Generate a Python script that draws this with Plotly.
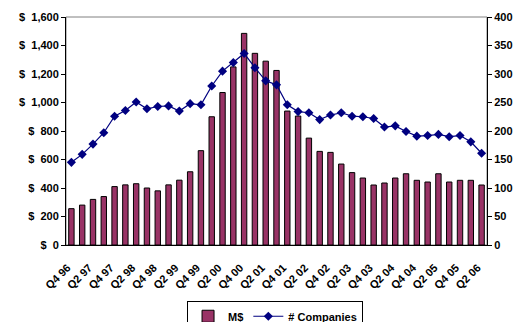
import plotly.graph_objects as go

# Quarterly funding (M$) and number of companies funded
quarters = [
    "Q4 96", "Q1 97", "Q2 97", "Q3 97", "Q4 97", "Q1 98", "Q2 98", "Q3 98",
    "Q4 98", "Q1 99", "Q2 99", "Q3 99", "Q4 99", "Q1 00", "Q2 00", "Q3 00",
    "Q4 00", "Q1 01", "Q2 01", "Q3 01", "Q4 01", "Q1 02", "Q2 02", "Q3 02",
    "Q4 02", "Q1 03", "Q2 03", "Q3 03", "Q4 03", "Q1 04", "Q2 04", "Q3 04",
    "Q4 04", "Q1 05", "Q2 05", "Q3 05", "Q4 05", "Q1 06", "Q2 06",
]
funding_musd = [
    255, 280, 320, 340, 410, 422, 430, 400, 380, 422, 455, 514, 662,
    900, 1070, 1250, 1485, 1345, 1290, 1225, 940, 905, 750, 657, 650,
    568, 508, 470, 421, 435, 470, 500, 454, 442, 500, 442, 454, 454, 421,
]
companies = [
    145, 159, 177, 197, 226, 236, 251, 239, 243, 244, 235, 248, 246,
    279, 305, 320, 336, 311, 288, 281, 246, 234, 232, 220, 228, 232,
    226, 225, 222, 207, 209, 199, 191, 192, 194, 190, 192, 181, 161,
]

x_tick_labels = quarters[::2]
left_tick_vals = [0, 200, 400, 600, 800, 1000, 1200, 1400, 1600]
left_tick_text = ["$\u00a0\u00a00", "$\u00a0\u00a0200", "$\u00a0\u00a0400",
                  "$\u00a0\u00a0600", "$\u00a0\u00a0800", "$\u00a0\u00a01,000",
                  "$\u00a0\u00a01,200", "$\u00a0\u00a01,400", "$\u00a0\u00a01,600"]
right_tick_vals = [0, 50, 100, 150, 200, 250, 300, 350, 400]

FONT = "Liberation Sans, Arial, sans-serif"
BAR_COLOR = "#993366"
LINE_COLOR = "#000080"
n = len(quarters)

fig = go.Figure()
fig.add_trace(go.Bar(
    x=quarters, y=funding_musd, name="M$",
    marker=dict(color=BAR_COLOR, line=dict(color="black", width=1)),
    xaxis="x", yaxis="y",
))
fig.add_trace(go.Scatter(
    x=quarters, y=companies, name="# Companies", mode="lines+markers",
    line=dict(color=LINE_COLOR, width=1.2),
    marker=dict(symbol="diamond", size=7, color=LINE_COLOR),
    xaxis="x", yaxis="y2",
))

tick_font = dict(family=FONT, size=11, color="black", weight="bold")

fig.update_layout(
    width=517, height=322,
    margin=dict(l=66, r=30, t=17, b=77, autoexpand=False),
    paper_bgcolor="white", plot_bgcolor="white",
    bargap=0.5,
    showlegend=True,
    font=dict(family=FONT, color="black"),
    xaxis=dict(
        type="category", range=[-0.5, n - 0.5],
        tickvals=x_tick_labels, ticktext=x_tick_labels,
        tickangle=-45, ticks="", ticklabelstandoff=11, ticklabelshift=-4,
        tickfont=dict(family=FONT, size=11, color="black", weight="bold"),
        showline=True, linecolor="black", linewidth=1,
        showgrid=False, zeroline=False, anchor="y", automargin=False,
    ),
    # boundary tick marks crossing the category axis
    xaxis2=dict(
        overlaying="x", anchor="y", side="bottom", range=[-0.5, n - 0.5],
        tick0=-0.5, dtick=1, ticks="outside", ticklen=3, tickcolor="black",
        showticklabels=False, showline=False, showgrid=False, zeroline=False,
    ),
    xaxis3=dict(
        overlaying="x", anchor="y", side="bottom", range=[-0.5, n - 0.5],
        tick0=-0.5, dtick=1, ticks="inside", ticklen=3, tickcolor="black",
        showticklabels=False, showline=False, showgrid=False, zeroline=False,
    ),
    yaxis=dict(
        range=[0, 1600], tickvals=left_tick_vals, ticktext=left_tick_text,
        ticks="outside", ticklen=4, tickcolor="black", tickfont=tick_font,
        showline=True, linecolor="black", linewidth=1,
        showgrid=False, zeroline=False, anchor="x", automargin=False,
    ),
    yaxis2=dict(
        range=[0, 400], tickvals=right_tick_vals, overlaying="y", side="right",
        ticks="outside", ticklen=4, tickcolor="black", tickfont=tick_font,
        showline=True, linecolor="black", linewidth=1,
        showgrid=False, zeroline=False, anchor="x", automargin=False,
    ),
    yaxis3=dict(
        range=[0, 1600], dtick=200, overlaying="y", side="left", anchor="x",
        ticks="inside", ticklen=3, tickcolor="black", showticklabels=False,
        showline=False, showgrid=False, zeroline=False,
    ),
    yaxis4=dict(
        range=[0, 400], dtick=50, overlaying="y", side="right", anchor="x",
        ticks="inside", ticklen=3, tickcolor="black", showticklabels=False,
        showline=False, showgrid=False, zeroline=False,
    ),
    legend=dict(
        orientation="h", xref="container", yref="container",
        x=0.532, xanchor="center", y=0.066, yanchor="top",
        bgcolor="white", bordercolor="black", borderwidth=1,
        font=dict(family=FONT, size=11, color="black", weight="bold"),
        itemwidth=30, tracegroupgap=0,
    ),
    shapes=[dict(
        type="rect", xref="paper", yref="paper", x0=0, x1=1, y0=0, y1=1,
        line=dict(color="#808080", width=1), layer="below",
    )],
)

fig.write_html("out.html")
